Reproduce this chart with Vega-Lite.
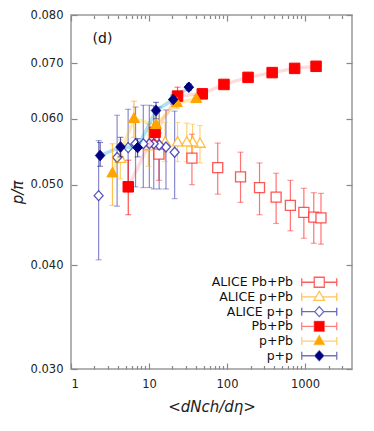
{
  "$schema": "https://vega.github.io/schema/vega-lite/v6.json",
  "width": 281,
  "height": 354,
  "autosize": {"type": "none"},
  "padding": {"left": 71, "top": 15, "right": 22, "bottom": 62},
  "background": "white",
  "config": {
    "view": {"stroke": "#999999", "strokeWidth": 1.5},
    "font": "DejaVu Sans"
  },
  "datasets": {
    "d": [
      {"series": "ALICE Pb+Pb", "x": 13.4, "y": 0.0544, "lo": 0.0506, "hi": 0.0577},
      {"series": "ALICE Pb+Pb", "x": 35.5, "y": 0.0538, "lo": 0.0500, "hi": 0.0575},
      {"series": "ALICE Pb+Pb", "x": 76, "y": 0.0524, "lo": 0.0487, "hi": 0.0561},
      {"series": "ALICE Pb+Pb", "x": 149, "y": 0.0511, "lo": 0.0476, "hi": 0.0547},
      {"series": "ALICE Pb+Pb", "x": 261, "y": 0.0496, "lo": 0.0460, "hi": 0.0531},
      {"series": "ALICE Pb+Pb", "x": 426, "y": 0.0483, "lo": 0.0449, "hi": 0.0516},
      {"series": "ALICE Pb+Pb", "x": 649, "y": 0.0472, "lo": 0.0440, "hi": 0.0506},
      {"series": "ALICE Pb+Pb", "x": 966, "y": 0.0463, "lo": 0.0431, "hi": 0.0495},
      {"series": "ALICE Pb+Pb", "x": 1294, "y": 0.0457, "lo": 0.0425, "hi": 0.0489},
      {"series": "ALICE Pb+Pb", "x": 1601, "y": 0.0456, "lo": 0.0424, "hi": 0.0488},
      {"series": "ALICE p+Pb", "x": 45, "y": 0.0560, "lo": 0.0531, "hi": 0.0589},
      {"series": "ALICE p+Pb", "x": 36.2, "y": 0.0562, "lo": 0.0532, "hi": 0.0591},
      {"series": "ALICE p+Pb", "x": 30.5, "y": 0.0562, "lo": 0.0533, "hi": 0.0593},
      {"series": "ALICE p+Pb", "x": 23.2, "y": 0.0562, "lo": 0.0533, "hi": 0.0594},
      {"series": "ALICE p+Pb", "x": 16.1, "y": 0.0562, "lo": 0.0533, "hi": 0.0594},
      {"series": "ALICE p+Pb", "x": 9.8, "y": 0.0556, "lo": 0.0526, "hi": 0.0592},
      {"series": "ALICE p+Pb", "x": 4.3, "y": 0.0537, "lo": 0.0508, "hi": 0.0566},
      {"series": "ALICE p+p", "x": 21.3, "y": 0.0547, "lo": 0.0481, "hi": 0.0613},
      {"series": "ALICE p+p", "x": 16.5, "y": 0.0555, "lo": 0.0494, "hi": 0.0615},
      {"series": "ALICE p+p", "x": 13.5, "y": 0.0558, "lo": 0.0494, "hi": 0.0620},
      {"series": "ALICE p+p", "x": 11.5, "y": 0.0560, "lo": 0.0494, "hi": 0.0622},
      {"series": "ALICE p+p", "x": 10.1, "y": 0.0560, "lo": 0.0496, "hi": 0.0623},
      {"series": "ALICE p+p", "x": 8.45, "y": 0.0560, "lo": 0.0496, "hi": 0.0623},
      {"series": "ALICE p+p", "x": 6.72, "y": 0.0560, "lo": 0.0497, "hi": 0.0620},
      {"series": "ALICE p+p", "x": 5.40, "y": 0.0554, "lo": 0.0494, "hi": 0.0616},
      {"series": "ALICE p+p", "x": 3.90, "y": 0.0539, "lo": 0.0471, "hi": 0.0606},
      {"series": "ALICE p+p", "x": 2.26, "y": 0.0485, "lo": 0.0406, "hi": 0.0565},
      {"series": "Pb+Pb", "x": 5.42, "y": 0.0497, "lo": 0.0460, "hi": 0.0535},
      {"series": "Pb+Pb", "x": 11.96, "y": 0.0578, "lo": 0.0565, "hi": 0.0591},
      {"series": "Pb+Pb", "x": 23.2, "y": 0.0639, "lo": 0.0623, "hi": 0.0655},
      {"series": "Pb+Pb", "x": 48.2, "y": 0.0643, "lo": 0.0636, "hi": 0.0650},
      {"series": "Pb+Pb", "x": 91.4, "y": 0.0660, "lo": 0.0656, "hi": 0.0664},
      {"series": "Pb+Pb", "x": 186, "y": 0.0673, "lo": 0.0669, "hi": 0.0677},
      {"series": "Pb+Pb", "x": 379, "y": 0.0682, "lo": 0.0679, "hi": 0.0685},
      {"series": "Pb+Pb", "x": 736, "y": 0.0690, "lo": 0.0687, "hi": 0.0693},
      {"series": "Pb+Pb", "x": 1385, "y": 0.0694, "lo": 0.0691, "hi": 0.0697},
      {"series": "p+Pb", "x": 3.40, "y": 0.0516, "lo": 0.0472, "hi": 0.0560},
      {"series": "p+Pb", "x": 6.41, "y": 0.0600, "lo": 0.0570, "hi": 0.0630},
      {"series": "p+Pb", "x": 12.3, "y": 0.0590, "lo": 0.0575, "hi": 0.0605},
      {"series": "p+Pb", "x": 22.7, "y": 0.0627, "lo": 0.0618, "hi": 0.0636},
      {"series": "p+Pb", "x": 40.3, "y": 0.0634, "lo": 0.0628, "hi": 0.0640},
      {"series": "p+p", "x": 2.36, "y": 0.0542, "lo": 0.0526, "hi": 0.0562},
      {"series": "p+p", "x": 4.31, "y": 0.0555, "lo": 0.0540, "hi": 0.0570},
      {"series": "p+p", "x": 7.14, "y": 0.0554, "lo": 0.0540, "hi": 0.0568},
      {"series": "p+p", "x": 12.3, "y": 0.0614, "lo": 0.0600, "hi": 0.0628},
      {"series": "p+p", "x": 20.4, "y": 0.0633, "lo": 0.0625, "hi": 0.0641},
      {"series": "p+p", "x": 32.4, "y": 0.0655, "lo": 0.0649, "hi": 0.0661}
    ],
    "panel": [{"label": "(d)", "px": 2.53, "py": 0.0748}]
  },
  "data": {"name": "d"},
  "resolve": {
    "scale": {"color": "independent", "shape": "independent", "fill": "independent", "stroke": "independent"},
    "axis": {"x": "independent", "y": "independent"}
  },
  "layer": [
    {
      "transform": [{"filter": "indexof(datum.series, 'ALICE') === 0"}],
      "mark": {"type": "rule", "strokeWidth": 1.2},
      "encoding": {
        "x": {"field": "x", "type": "quantitative", "scale": {"type": "log", "domain": [1, 4000], "nice": false},
          "axis": {"orient": "bottom", "values": [1, 10, 100, 1000], "format": "d", "ticks": false, "domain": false, "grid": false,
            "labelPadding": 9, "labelFont": "DejaVu Sans", "labelFontSize": 11.5, "labelColor": "#222222",
            "title": "<dNch/dη>", "titleFont": "DejaVu Sans", "titleFontSize": 15, "titleFontStyle": "italic", "titleFontWeight": "normal", "titleColor": "#222222", "titlePadding": 10}},
        "y": {"field": "lo", "type": "quantitative", "scale": {"type": "log", "domain": [0.03, 0.08], "nice": false},
          "axis": {"orient": "left", "values": [0.03, 0.04, 0.05, 0.06, 0.07, 0.08], "format": ".3f", "ticks": false, "domain": false, "grid": false,
            "labelPadding": 8, "labelFont": "DejaVu Sans", "labelFontSize": 11.5, "labelColor": "#222222",
            "title": "p/π", "titleFont": "DejaVu Sans", "titleFontSize": 15, "titleFontStyle": "italic", "titleFontWeight": "normal", "titleColor": "#222222", "titlePadding": 5}},
        "y2": {"field": "hi"},
        "color": {"field": "series", "type": "nominal", "legend": null,
          "scale": {"domain": ["ALICE Pb+Pb", "ALICE p+Pb", "ALICE p+p"], "range": ["rgba(255,40,40,0.65)", "rgba(255,180,30,0.6)", "rgba(40,40,170,0.55)"]}}
      }
    },
    {
      "transform": [{"filter": "indexof(datum.series, 'ALICE') === 0"}, {"fold": ["lo", "hi"], "as": ["end", "yv"]}],
      "mark": {"type": "tick", "orient": "horizontal", "size": 6, "thickness": 1.2},
      "encoding": {
        "x": {"field": "x", "type": "quantitative", "scale": {"type": "log", "domain": [1, 4000], "nice": false},
          "axis": {"orient": "bottom", "values": [1, 10, 100, 1000], "labels": false, "domain": false, "grid": false, "ticks": true, "tickSize": 6, "offset": -6, "tickColor": "#888888", "tickWidth": 1.2, "title": null}},
        "y": {"field": "yv", "type": "quantitative", "scale": {"type": "log", "domain": [0.03, 0.08], "nice": false},
          "axis": {"orient": "left", "values": [0.03, 0.04, 0.05, 0.06, 0.07, 0.08], "labels": false, "domain": false, "grid": false, "ticks": true, "tickSize": 6, "offset": -6, "tickColor": "#888888", "tickWidth": 1.2, "title": null}},
        "color": {"field": "series", "type": "nominal", "legend": null,
          "scale": {"domain": ["ALICE Pb+Pb", "ALICE p+Pb", "ALICE p+p"], "range": ["rgba(255,40,40,0.65)", "rgba(255,180,30,0.6)", "rgba(40,40,170,0.55)"]}}
      }
    },
    {
      "transform": [{"filter": "indexof(datum.series, 'ALICE') === 0"}],
      "mark": {"type": "point", "filled": true, "size": 100, "strokeWidth": 1.3, "opacity": 1},
      "encoding": {
        "x": {"field": "x", "type": "quantitative", "scale": {"type": "log", "domain": [1, 4000], "nice": false},
          "axis": {"orient": "bottom", "values": [2, 3, 4, 5, 6, 7, 8, 9, 20, 30, 40, 50, 60, 70, 80, 90, 200, 300, 400, 500, 600, 700, 800, 900, 2000, 3000], "labels": false, "domain": false, "grid": false, "ticks": true, "tickSize": 3.5, "offset": -3.5, "tickColor": "#888888", "tickWidth": 1.2, "title": null}},
        "y": {"field": "y", "type": "quantitative", "scale": {"type": "log", "domain": [0.03, 0.08], "nice": false},
          "axis": {"orient": "right", "values": [0.03, 0.04, 0.05, 0.06, 0.07, 0.08], "labels": false, "domain": false, "grid": false, "ticks": true, "tickSize": 6, "offset": -6, "tickColor": "#888888", "tickWidth": 1.2, "title": null}},
        "shape": {"field": "series", "type": "nominal", "legend": null,
          "scale": {"domain": ["ALICE Pb+Pb", "ALICE p+Pb", "ALICE p+p"], "range": ["M-1,-1H1V1H-1Z", "M0,-1.15L1.05,0.7L-1.05,0.7Z", "M0,-1L0.9,0L0,1L-0.9,0Z"]}},
        "fill": {"field": "series", "type": "nominal", "legend": null,
          "scale": {"domain": ["ALICE Pb+Pb", "ALICE p+Pb", "ALICE p+p"], "range": ["white", "white", "white"]}},
        "stroke": {"field": "series", "type": "nominal", "legend": null,
          "scale": {"domain": ["ALICE Pb+Pb", "ALICE p+Pb", "ALICE p+p"], "range": ["rgba(255,30,30,0.75)", "rgba(255,175,20,0.8)", "rgba(30,30,170,0.75)"]}}
      }
    },
    {
      "transform": [{"filter": "indexof(datum.series, 'ALICE') < 0"}],
      "mark": {"type": "line", "strokeWidth": 3.5},
      "encoding": {
        "x": {"field": "x", "type": "quantitative", "scale": {"type": "log", "domain": [1, 4000], "nice": false},
          "axis": {"orient": "top", "values": [1, 10, 100, 1000], "labels": false, "domain": false, "grid": false, "ticks": true, "tickSize": 6, "offset": -6, "tickColor": "#888888", "tickWidth": 1.2, "title": null}},
        "y": {"field": "y", "type": "quantitative", "scale": {"type": "log", "domain": [0.03, 0.08], "nice": false}, "axis": null},
        "color": {"field": "series", "type": "nominal", "legend": null,
          "scale": {"domain": ["Pb+Pb", "p+Pb", "p+p"], "range": ["rgba(255,0,0,0.14)", "rgba(255,190,0,0.3)", "rgba(0,150,220,0.3)"]}}
      }
    },
    {
      "transform": [{"filter": "indexof(datum.series, 'ALICE') < 0"}],
      "mark": {"type": "rule", "strokeWidth": 1.2},
      "encoding": {
        "x": {"field": "x", "type": "quantitative", "scale": {"type": "log", "domain": [1, 4000], "nice": false},
          "axis": {"orient": "top", "values": [2, 3, 4, 5, 6, 7, 8, 9, 20, 30, 40, 50, 60, 70, 80, 90, 200, 300, 400, 500, 600, 700, 800, 900, 2000, 3000], "labels": false, "domain": false, "grid": false, "ticks": true, "tickSize": 3.5, "offset": -3.5, "tickColor": "#888888", "tickWidth": 1.2, "title": null}},
        "y": {"field": "lo", "type": "quantitative", "scale": {"type": "log", "domain": [0.03, 0.08], "nice": false}, "axis": null},
        "y2": {"field": "hi"},
        "color": {"field": "series", "type": "nominal", "legend": null,
          "scale": {"domain": ["Pb+Pb", "p+Pb", "p+p"], "range": ["rgba(255,0,0,0.7)", "rgba(255,165,0,0.7)", "rgba(0,0,128,0.65)"]}}
      }
    },
    {
      "transform": [{"filter": "indexof(datum.series, 'ALICE') < 0"}, {"fold": ["lo", "hi"], "as": ["end", "yv"]}],
      "mark": {"type": "tick", "orient": "horizontal", "size": 6, "thickness": 1.2},
      "encoding": {
        "x": {"field": "x", "type": "quantitative", "scale": {"type": "log", "domain": [1, 4000], "nice": false}, "axis": null},
        "y": {"field": "yv", "type": "quantitative", "scale": {"type": "log", "domain": [0.03, 0.08], "nice": false}, "axis": null},
        "color": {"field": "series", "type": "nominal", "legend": null,
          "scale": {"domain": ["Pb+Pb", "p+Pb", "p+p"], "range": ["rgba(255,0,0,0.7)", "rgba(255,165,0,0.7)", "rgba(0,0,128,0.65)"]}}
      }
    },
    {
      "transform": [{"filter": "indexof(datum.series, 'ALICE') < 0"}],
      "mark": {"type": "point", "filled": true, "size": 110, "strokeWidth": 1, "opacity": 1},
      "encoding": {
        "x": {"field": "x", "type": "quantitative", "scale": {"type": "log", "domain": [1, 4000], "nice": false}, "axis": null},
        "y": {"field": "y", "type": "quantitative", "scale": {"type": "log", "domain": [0.03, 0.08], "nice": false}, "axis": null},
        "shape": {"field": "series", "type": "nominal", "legend": null,
          "scale": {"domain": ["Pb+Pb", "p+Pb", "p+p"], "range": ["M-1,-1H1V1H-1Z", "M0,-1.15L1.05,0.7L-1.05,0.7Z", "M0,-1L0.9,0L0,1L-0.9,0Z"]}},
        "fill": {"field": "series", "type": "nominal", "legend": null,
          "scale": {"domain": ["Pb+Pb", "p+Pb", "p+p"], "range": ["#ff0000", "#ffa500", "#000080"]}},
        "stroke": {"field": "series", "type": "nominal", "legend": null,
          "scale": {"domain": ["Pb+Pb", "p+Pb", "p+p"], "range": ["#ff0000", "#ffa500", "#000080"]}}
      }
    },
    {
      "transform": [{"filter": "false"}],
      "mark": {"type": "point", "filled": true, "size": 100, "strokeWidth": 1.3, "opacity": 1},
      "encoding": {
        "x": {"field": "x", "type": "quantitative", "scale": {"type": "log", "domain": [1, 4000], "nice": false}, "axis": null},
        "y": {"field": "y", "type": "quantitative", "scale": {"type": "log", "domain": [0.03, 0.08], "nice": false}, "axis": null},
        "shape": {"field": "series", "type": "nominal",
          "scale": {"domain": ["ALICE Pb+Pb", "ALICE p+Pb", "ALICE p+p", "Pb+Pb", "p+Pb", "p+p"],
            "range": [
              "M-3.5,0H-1M1,0H3.5M-3.5,-0.8V0.8M3.5,-0.8V0.8M-1,-1H1V1H-1Z",
              "M-3.5,0H-0.7M0.7,0H3.5M-3.5,-0.8V0.8M3.5,-0.8V0.8M0,-1.15L1.05,0.7L-1.05,0.7Z",
              "M-3.5,0H-0.9M0.9,0H3.5M-3.5,-0.8V0.8M3.5,-0.8V0.8M0,-1L0.9,0L0,1L-0.9,0Z",
              "M-3.5,0H-1M1,0H3.5M-3.5,-0.8V0.8M3.5,-0.8V0.8M-1,-1H1V1H-1Z",
              "M-3.5,0H-0.7M0.7,0H3.5M-3.5,-0.8V0.8M3.5,-0.8V0.8M0,-1.15L1.05,0.7L-1.05,0.7Z",
              "M-3.5,0H-0.9M0.9,0H3.5M-3.5,-0.8V0.8M3.5,-0.8V0.8M0,-1L0.9,0L0,1L-0.9,0Z"]},
          "legend": {"orient": "none", "legendX": 242, "legendY": 261, "title": null, "labelFont": "DejaVu Sans", "labelFontSize": 12.5, "labelColor": "#111111", "labelAlign": "right", "labelOffset": -32.5, "symbolSize": 100, "symbolStrokeWidth": 1.3, "rowPadding": -2.3, "gridAlign": "all", "padding": 0}},
        "fill": {"field": "series", "type": "nominal",
          "scale": {"domain": ["ALICE Pb+Pb", "ALICE p+Pb", "ALICE p+p", "Pb+Pb", "p+Pb", "p+p"],
            "range": ["white", "white", "white", "#ff0000", "#ffa500", "#000080"]},
          "legend": {"orient": "none", "legendX": 242, "legendY": 261, "title": null, "labelFont": "DejaVu Sans", "labelFontSize": 12.5, "labelColor": "#111111", "labelAlign": "right", "labelOffset": -32.5, "symbolSize": 100, "symbolStrokeWidth": 1.3, "rowPadding": -2.3, "gridAlign": "all", "padding": 0}},
        "stroke": {"field": "series", "type": "nominal",
          "scale": {"domain": ["ALICE Pb+Pb", "ALICE p+Pb", "ALICE p+p", "Pb+Pb", "p+Pb", "p+p"],
            "range": ["rgba(255,40,40,0.75)", "rgba(255,175,30,0.75)", "rgba(40,40,170,0.7)", "rgba(255,0,0,0.5)", "rgba(255,165,0,0.55)", "rgba(0,0,128,0.55)"]},
          "legend": {"orient": "none", "legendX": 242, "legendY": 261, "title": null, "labelFont": "DejaVu Sans", "labelFontSize": 12.5, "labelColor": "#111111", "labelAlign": "right", "labelOffset": -32.5, "symbolSize": 100, "symbolStrokeWidth": 1.3, "rowPadding": -2.3, "gridAlign": "all", "padding": 0}}
      }
    },
    {
      "data": {"name": "panel"},
      "mark": {"type": "text", "font": "DejaVu Sans", "fontSize": 14, "color": "#111111", "align": "center", "baseline": "middle"},
      "encoding": {
        "text": {"field": "label"},
        "x": {"field": "px", "type": "quantitative", "scale": {"type": "log", "domain": [1, 4000], "nice": false}, "axis": null},
        "y": {"field": "py", "type": "quantitative", "scale": {"type": "log", "domain": [0.03, 0.08], "nice": false}, "axis": null}
      }
    }
  ]
}
